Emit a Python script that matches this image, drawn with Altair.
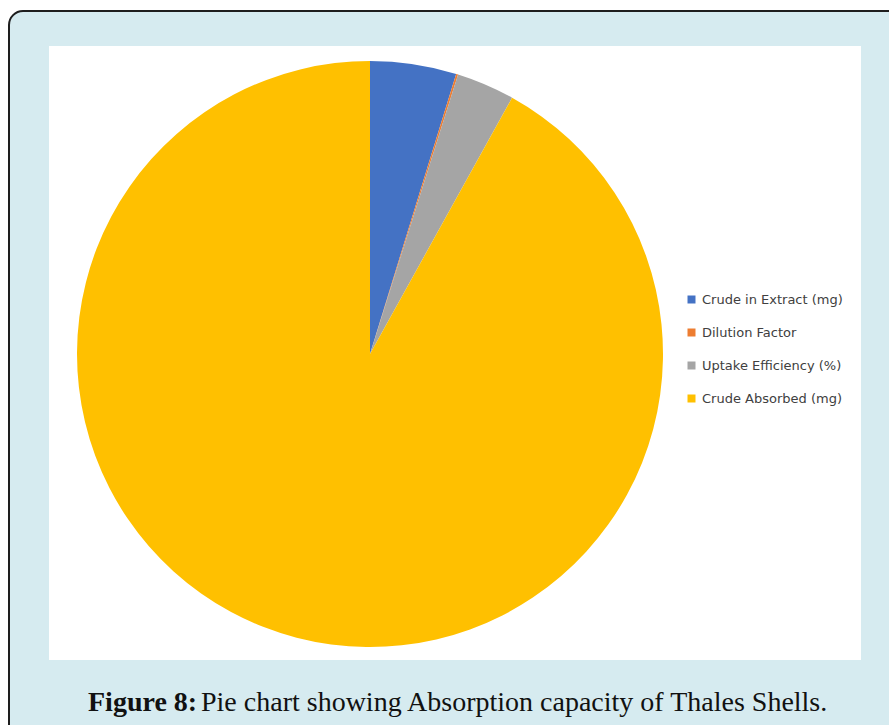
import altair as alt
import pandas as pd

# ---- data ----
categories = ["Crude in Extract (mg)", "Dilution Factor", "Uptake Efficiency (%)", "Crude Absorbed (mg)"]
values = [4.75, 0.11, 3.2, 91.94]
colors = ["#4472C4", "#ED7D31", "#A5A5A5", "#FFC000"]
caption_bold = "Figure 8:"
caption_rest = "Pie chart showing Absorption capacity of Thales Shells."

W, H = 889, 725
one = pd.DataFrame({"k": [0]})

pie_df = pd.DataFrame({"category": categories, "value": values, "order": list(range(len(categories)))})

outer = alt.Chart(one).mark_rect(
    fill="#d6ebf0", stroke="#1e1e1e", strokeWidth=2, cornerRadius=14
).encode(x=alt.value(9), x2=alt.value(920), y=alt.value(11), y2=alt.value(760))

inner = alt.Chart(one).mark_rect(fill="white").encode(
    x=alt.value(49), x2=alt.value(861), y=alt.value(46), y2=alt.value(660)
)

pie = alt.Chart(pie_df).mark_arc(outerRadius=293, stroke=None).encode(
    theta=alt.Theta("value:Q", stack=True),
    color=alt.Color(
        "category:N",
        scale=alt.Scale(domain=categories, range=colors),
        sort=categories,
        legend=alt.Legend(
            title=None,
            orient="none",
            legendX=685,
            legendY=293,
            symbolType="square",
            symbolSize=64,
            symbolStrokeWidth=0,
            labelFont="DejaVu Sans",
            labelFontSize=13,
            labelColor="#404040",
            rowPadding=19,
            labelOffset=4,
            padding=0,
        ),
    ),
    order=alt.Order("order:Q"),
    x=alt.value(370),
    y=alt.value(354),
)

cap_b = alt.Chart(pd.DataFrame({"t": [caption_bold]})).mark_text(
    font="Liberation Serif", fontSize=28, fontWeight="bold", align="left", baseline="alphabetic", color="#111111"
).encode(text="t:N", x=alt.value(88), y=alt.value(711))

cap_r = alt.Chart(pd.DataFrame({"t": [caption_rest]})).mark_text(
    font="Liberation Serif", fontSize=28, align="left", baseline="alphabetic", color="#111111"
).encode(text="t:N", x=alt.value(201), y=alt.value(711))

chart = alt.layer(outer, inner, pie, cap_b, cap_r).properties(
    width=W, height=H, autosize=alt.AutoSizeParams(type="none"), padding=0, background="white"
).configure_view(stroke=None)

chart.save("out.html", embed_options={"renderer": "svg", "actions": False})
